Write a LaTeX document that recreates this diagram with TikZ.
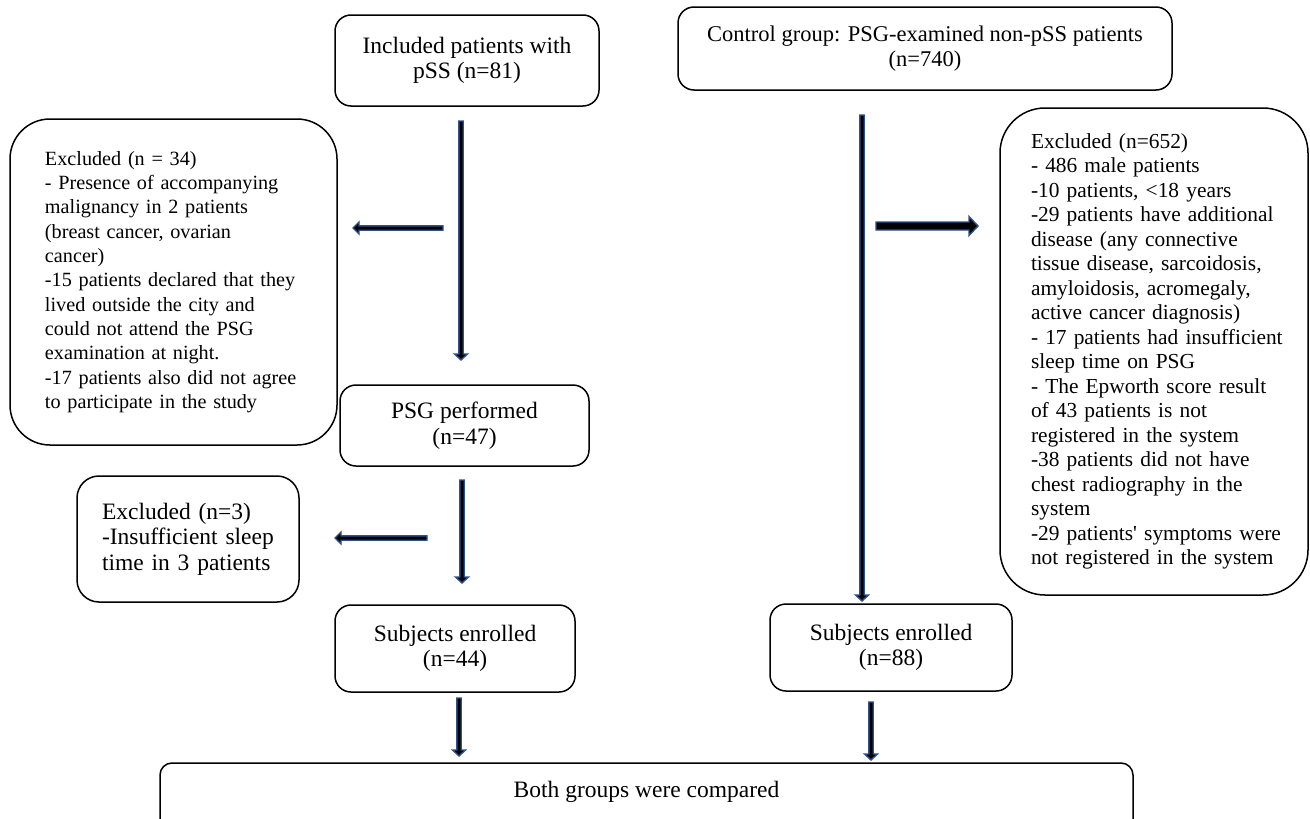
\documentclass[tikz,border=0pt]{standalone}
\usepackage{fontspec}
\setmainfont{Liberation Serif}
\usetikzlibrary{calc}
\definecolor{arrowblue}{HTML}{2F528F}
\tikzset{
  box/.style={draw=black, line width=1.5pt, rounded corners=16pt, inner sep=0pt,
    font=\fontsize{23.5}{25.5}\selectfont, align=center},
  leftbig/.style={draw=black, line width=1.5pt, rounded corners=40pt, inner sep=0pt,
    font=\fontsize{20.2}{24.3}\selectfont, align=left},
  rightbig/.style={draw=black, line width=1.5pt, rounded corners=45pt, inner sep=0pt,
    font=\fontsize{21.4}{24.5}\selectfont, align=left},
  blk/.style={draw=arrowblue, fill=black, line width=1.4pt, line join=miter}
}
% vertical block arrow pointing down from #1 to #2
\newcommand\blkdown[2]{%
  \path[blk] let \p1=(#1), \p2=(#2) in
    (\x1-2.2pt,\y1) -- (\x1+2.2pt,\y1) -- (\x1+2.2pt,\y2+6pt) -- (\x1+6.5pt,\y2+6pt)
    -- (\x1,\y2) -- (\x1-6.5pt,\y2+6pt) -- (\x1-2.2pt,\y2+6pt) -- cycle;}
% horizontal block arrow pointing left from #1 to #2
\newcommand\blkleft[2]{%
  \path[blk] let \p1=(#1), \p2=(#2) in
    (\x1,\y1+2.2pt) -- (\x2+6pt,\y1+2.2pt) -- (\x2+6pt,\y1+6pt) -- (\x2,\y1)
    -- (\x2+6pt,\y1-6pt) -- (\x2+6pt,\y1-2.2pt) -- (\x1,\y1-2.2pt) -- cycle;}
% thick horizontal block arrow pointing right from #1 to #2
\newcommand\blkright[2]{%
  \path[blk] let \p1=(#1), \p2=(#2) in
    (\x1,\y1+4pt) -- (\x2-9pt,\y1+4pt) -- (\x2-9pt,\y1+9.5pt) -- (\x2,\y1)
    -- (\x2-9pt,\y1-9.5pt) -- (\x2-9pt,\y1-4pt) -- (\x1,\y1-4pt) -- cycle;}

\begin{document}
\begin{tikzpicture}[x=1pt,y=-1pt]
\useasboundingbox (0,0) rectangle (1310,819);

% boxes
\node[box, minimum width=264, minimum height=91] (A) at (467,60.5)
  {Included patients with\\pSS (n=81)};
\node[box, font=\fontsize{22.5}{25}\selectfont, minimum width=494, minimum height=83] (B) at (925,48.5)
  {Control group: PSG-examined non-pSS patients\\(n=740)};
\node[box, minimum width=249, minimum height=81] (P) at (464.5,425.5)
  {PSG performed\\(n=47)};
\node[box, minimum width=240, minimum height=87] (EL) at (455,648.5)
  {Subjects enrolled\\(n=44)};
\node[box, minimum width=242, minimum height=87] (ER) at (891,647.5)
  {Subjects enrolled\\(n=88)};
\node[box, rounded corners=22pt, align=left, text width=172, minimum width=222,
  minimum height=126] (X3) at (188,539)
  {Excluded (n=3)\\-Insufficient sleep\\time in 3 patients};
\node[leftbig, text width=257, minimum width=327, minimum height=326] (XL) at (173.5,282)
  {Excluded (n = 34)\\
   \mbox{- Presence of accompanying}\\
   \mbox{malignancy in 2 patients}\\
   \mbox{(breast cancer, ovarian}\\
   cancer)\\
   \mbox{-15 patients declared that they}\\
   \mbox{lived outside the city and}\\
   \mbox{could not attend the PSG}\\
   \mbox{examination at night.}\\
   \mbox{-17 patients also did not agree}\\
   \mbox{to participate in the study}};
\node[rightbig, text width=246, minimum width=308, minimum height=487] (XR) at (1154,351.5)
  {Excluded (n=652)\\
   \mbox{- 486 male patients}\\
   \mbox{-10 patients, <18 years}\\
   \mbox{-29 patients have additional}\\
   \mbox{disease (any connective}\\
   \mbox{tissue disease, sarcoidosis,}\\
   \mbox{amyloidosis, acromegaly,}\\
   \mbox{active cancer diagnosis)}\\
   \mbox{- 17 patients had insufficient}\\
   \mbox{sleep time on PSG}\\
   \mbox{- The Epworth score result}\\
   \mbox{of 43 patients is not}\\
   \mbox{registered in the system}\\
   \mbox{-38 patients did not have}\\
   \mbox{chest radiography in the}\\
   system\\
   \mbox{-29 patients\textquotesingle{} symptoms were}\\
   \mbox{not registered in the system}};
\node[box, rounded corners=12pt, minimum width=973, minimum height=70,
  text height=17pt, text depth=19pt] (F) at (646.5,798)
  {Both groups were compared};

% arrow end points
\coordinate (a1s) at (461,121);  \coordinate (a1e) at (461,360);
\coordinate (a2s) at (462,480);  \coordinate (a2e) at (462,583);
\coordinate (a3s) at (459,698);  \coordinate (a3e) at (459,756);
\coordinate (b1s) at (862,115);  \coordinate (b1e) at (862,601);
\coordinate (b2s) at (871,702);  \coordinate (b2e) at (871,760);
\coordinate (l1s) at (443,228);  \coordinate (l1e) at (353,228);
\coordinate (l2s) at (427,538);  \coordinate (l2e) at (335,538);
\coordinate (r1s) at (876,226);  \coordinate (r1e) at (978,226);

\blkdown{a1s}{a1e}
\blkdown{a2s}{a2e}
\blkdown{a3s}{a3e}
\blkdown{b1s}{b1e}
\blkdown{b2s}{b2e}
\blkleft{l1s}{l1e}
\blkleft{l2s}{l2e}
\blkright{r1s}{r1e}
\end{tikzpicture}
\end{document}
